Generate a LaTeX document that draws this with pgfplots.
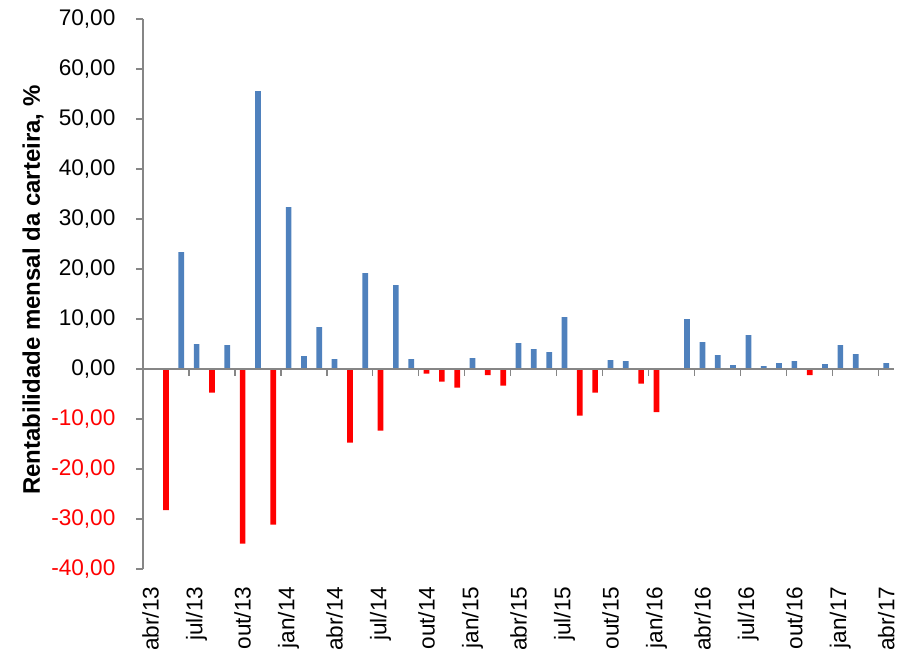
\documentclass[border=0pt]{standalone}
\usepackage{pgfplots}
\pgfplotsset{compat=1.18}
\usepackage{fontspec}
\setmainfont{Liberation Sans}
\definecolor{barblue}{HTML}{4F81BD}
\definecolor{barred}{HTML}{FF0000}
\definecolor{axgray}{HTML}{868686}
\begin{document}
\begin{tikzpicture}
\begin{axis}[
  name=ax,
  scale only axis, width=375.5pt, height=275pt,
  xmin=-0.5, xmax=48.5, ymin=-40, ymax=70,
  axis y line*=left, axis x line*=bottom,
  x axis line style={draw=none},
  y axis line style={axgray, line width=0.6pt, -},
  ytick={-40,-30,...,70},
  yticklabels={{\textcolor{barred}{-40,00}},{\textcolor{barred}{-30,00}},{\textcolor{barred}{-20,00}},{\textcolor{barred}{-10,00}},
    {0,00},{10,00},{20,00},{30,00},{40,00},{50,00},{60,00},{70,00}},
  xtick={0,3,...,48},
  xticklabels={abr/13,jul/13,out/13,jan/14,abr/14,jul/14,out/14,jan/15,abr/15,jul/15,out/15,jan/16,abr/16,jul/16,out/16,jan/17,abr/17},
  xtick style={draw=none},
  ytick style={axgray, line width=0.6pt},
  tick align=outside, major tick length=3.3pt,
  tick label style={font=\fontsize{11.3}{13}\selectfont},
  yticklabel style={xshift=-7pt},
  xticklabel style={rotate=90, anchor=east, inner sep=0pt, outer sep=5.5pt},
  ylabel={\textbf{Rentabilidade mensal da carteira, \%}},
  ylabel style={at={(axis description cs:-0.1465,0.507)}, anchor=center, font=\fontsize{12}{14}\selectfont},
]
% positive months
\addplot[ybar, bar width=2.85pt, fill=barblue, draw=none] coordinates {
 (2,23.4) (3,5.0) (5,4.8) (7,55.6) (9,32.4) (10,2.6) (11,8.4) (12,2.0)
 (14,19.2) (16,16.8) (17,2.0) (21,2.2) (24,5.2) (25,4.0) (26,3.4) (27,10.4)
 (30,1.8) (31,1.6) (34,0.2) (35,10.0) (36,5.4) (37,2.8) (38,0.8) (39,6.8)
 (40,0.6) (41,1.2) (42,1.6) (44,1.0) (45,4.8) (46,3.0) (47,0.2) (48,1.2)
};
% negative months
\addplot[ybar, bar width=2.85pt, fill=barred, draw=none] coordinates {
 (1,-28.2) (4,-4.7) (6,-34.9) (8,-31.1) (13,-14.7) (15,-12.3) (18,-0.9)
 (19,-2.5) (20,-3.7) (22,-1.2) (23,-3.3) (28,-9.3) (29,-4.7) (32,-2.9)
 (33,-8.6) (43,-1.2)
};
% zero line with tick marks between quarters
\draw[axgray, line width=0.6pt] (axis cs:-0.5,0) -- (axis cs:48.5,0);
\pgfplotsinvokeforeach{2.5,5.5,...,47.5}{
  \draw[axgray, line width=0.6pt] (axis cs:#1,0) -- ++(0pt,-3.5pt);
}
\end{axis}
\pgfresetboundingbox
\path ([shift={(-71.5pt,-45.5pt)}]ax.south west) rectangle ([shift={(9pt,9.5pt)}]ax.north east);
\end{tikzpicture}
\end{document}
